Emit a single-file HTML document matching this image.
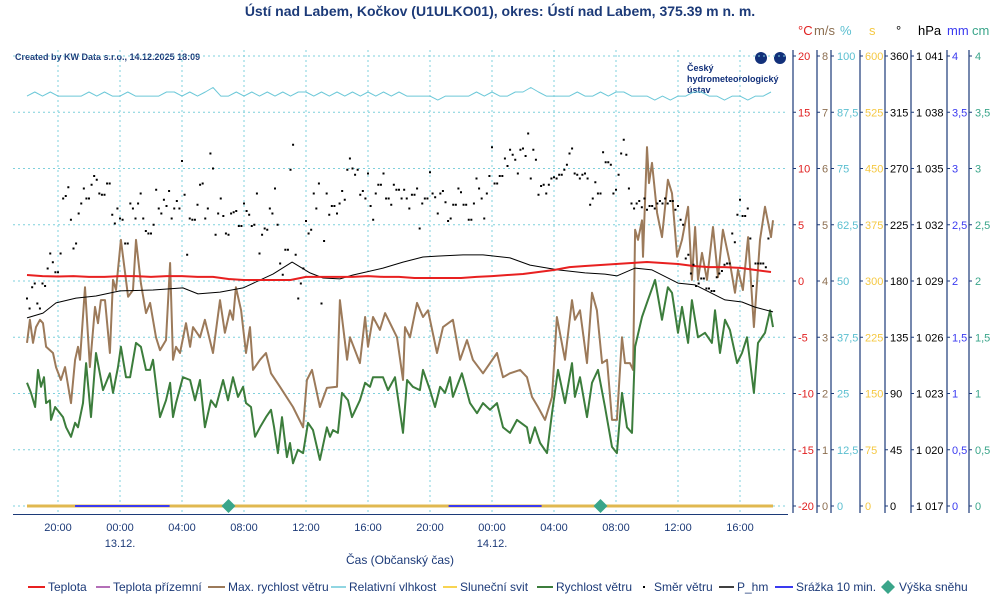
<!DOCTYPE html>
<html><head><meta charset="utf-8">
<style>
body{margin:0;background:#fff;width:1000px;height:600px;overflow:hidden;font-family:"Liberation Sans",sans-serif;}
svg text{font-family:"Liberation Sans",sans-serif;}
</style></head>
<body>
<svg id="chart" width="1000" height="600" viewBox="0 0 1000 600" xmlns="http://www.w3.org/2000/svg">
<text x="500" y="16" text-anchor="middle" font-size="14" font-weight="bold" fill="#1c3a78">Ústí nad Labem, Kočkov (U1ULKO01), okres: Ústí nad Labem, 375.39 m n. m.</text>
<text x="15" y="60" font-size="9" font-weight="bold" fill="#1c3a78">Created by KW Data s.r.o., 14.12.2025 18:09</text>
<g>
<circle cx="761" cy="58" r="6" fill="#12307a"/><circle cx="780" cy="58" r="6" fill="#12307a"/>
<text x="687" y="71" font-size="9" font-weight="bold" fill="#12307a">Český</text>
<text x="687" y="82" font-size="9" font-weight="bold" fill="#12307a">hydrometeorologický</text>
<text x="687" y="93" font-size="9" font-weight="bold" fill="#12307a">ústav</text>
</g>
<g id="grid"></g>
<g id="axes"></g>
<g id="series"></g>
<g id="xaxis"></g>
<text x="400" y="564" text-anchor="middle" font-size="12" fill="#1c3a78">Čas (Občanský čas)</text>
<g id="legend"></g>
</svg>
<script>
// ---- data (hours since 12.12. 18:00) ----
const tempHours = [0,1,2,3,4,5,6,7,8,9,10,11,12,13,14,15,16,17,18,19,20,21,22,23,24,25,26,27,28,29,30,31,32,33,34,35,36,37,38,39,40,41,42,43,44,45,46,47,48];
const tempValues = [0.53,0.44,0.4,0.44,0.36,0.36,0.44,0.44,0.36,0.44,0.44,0.36,0.36,0.18,0.09,0.09,0.09,0.09,0.36,0.36,0.36,0.36,0.44,0.36,0.36,0.27,0.27,0.27,0.27,0.36,0.44,0.53,0.62,0.8,0.98,1.24,1.33,1.42,1.51,1.6,1.69,1.6,1.51,1.33,1.24,1.24,1.16,0.98,0.8];
const gustHours = [0,0.19,0.39,0.58,0.84,1.03,1.23,1.68,1.87,2.19,2.45,2.84,3.1,3.29,3.42,3.74,4.06,4.39,4.58,4.77,5.03,5.35,5.55,5.74,6.06,6.52,6.84,7.03,7.35,7.68,7.94,8.32,8.58,8.97,9.23,9.42,9.61,9.87,10.26,10.52,10.71,11.16,11.48,12,12.45,12.77,13.1,13.29,13.48,13.81,14.13,14.39,14.58,15.03,15.42,15.74,16.32,17.16,17.81,18.06,18.39,18.9,19.35,20,20.19,20.65,20.84,21.48,21.81,22,22.32,22.77,23.1,23.87,24.26,24.39,24.71,25.16,25.55,25.87,26.45,26.84,27.48,27.94,28.39,28.77,29.42,30.32,30.71,31.16,31.81,32.26,32.58,32.97,33.42,33.87,34.19,34.71,35.16,35.35,35.68,36.13,36.45,36.77,37.1,37.42,37.74,38.06,38.39,38.58,38.9,39.1,39.23,39.42,39.68,39.74,40,40.13,40.32,40.65,40.97,41.35,41.61,41.94,42.26,42.65,42.9,43.1,43.29,43.55,43.87,44.26,44.58,44.9,45.35,45.68,45.87,46.19,46.52,46.9,47.29,47.61,48,48.13];
const gustValues = [2.9,3.31,2.9,3.18,3.31,3.25,2.83,2.72,2.47,2.24,2.47,1.83,2.6,2.83,2.6,3.89,2.47,3.54,3.25,3.66,3.66,2.72,4.02,3.84,4.73,3.72,3.84,4.73,3.96,3.43,3.61,3,2.77,2.95,4.32,2.6,2.83,2.72,3.25,2.83,3.18,3,3.31,2.72,3.66,3.08,3.48,3.31,3.89,3.48,2.72,3.18,2.42,2.6,2.72,2.36,2.12,1.76,1.4,2.24,2.42,1.76,2.1,2.12,3.66,2.6,3,2.54,3.36,2.83,3.36,3.13,3.43,3,2.24,3.18,3,3.61,3.36,3.48,2.72,3.18,3.31,2.6,2.95,2.6,2.36,2.72,2.29,2.36,2.42,2.29,1.94,1.76,1.53,1.94,3.36,2.6,3.66,3.31,3.48,2.54,3.79,3.48,2.54,2.6,1.53,1.53,3,2.54,2.54,2.42,4.91,4.73,5.08,4.43,6.38,5.74,6.1,5.21,4.78,5.8,5.56,4.43,4.73,5.32,4.02,4.96,4.02,4.5,4.02,4.96,4.07,4.91,4.32,3.79,4.2,3.84,4.78,3.18,4.73,5.32,4.78,5.08];
const speedHours = [0,0.26,0.52,0.71,0.9,1.1,1.23,1.48,1.55,1.81,2.32,2.52,2.84,3.1,3.29,3.61,3.81,4.13,4.45,4.9,5.35,5.55,5.87,6.06,6.39,6.65,7.03,7.35,7.68,7.94,8.13,8.58,8.97,9.23,9.42,9.61,10.06,10.52,10.84,11.16,11.48,11.87,12.19,12.65,12.97,13.29,13.61,13.94,14.13,14.45,14.71,15.03,15.42,15.74,15.94,16.19,16.45,16.77,16.97,17.16,17.48,17.81,18.13,18.45,18.9,19.35,19.55,19.74,20.06,20.32,20.71,20.97,21.48,21.81,22.13,22.32,22.97,23.29,23.74,24.26,24.52,24.9,25.35,25.55,26,26.32,26.65,26.97,27.29,27.48,28.06,28.58,29.03,29.42,29.87,30.32,30.71,31.16,31.61,32.26,32.45,32.77,33.1,33.55,33.87,34.26,34.71,35.16,35.35,35.68,36.13,36.45,36.84,37.29,37.74,38.06,38.39,38.71,39.03,39.23,39.68,40.06,40.52,40.97,41.35,41.61,42,42.26,42.65,42.9,43.29,43.74,44.19,44.39,44.71,45.03,45.35,45.81,46.13,46.45,46.9,47.16,47.61,47.94,48.13];
const speedValues = [2.19,2.01,1.76,2.42,2.12,2.29,1.83,1.88,1.53,1.76,1.58,1.4,1.23,1.48,1.4,1.83,2.54,1.58,2.72,2.06,2.36,2.01,2.47,2.83,2.29,2.29,2.9,2.83,2.42,2.42,2.6,1.58,1.88,2.19,1.58,1.83,2.29,2.24,1.88,2.24,1.4,1.88,1.76,2.24,1.88,2.29,1.94,2.12,1.83,1.76,1.23,1.4,1.58,1.71,1.4,0.94,1.58,0.87,1.12,0.76,1,0.94,1.48,1.35,0.82,1.4,1.23,1.35,1.3,2.01,1.88,1.58,1.88,2.19,2.12,2.29,2.29,2.06,2.29,1.3,2.24,2.12,2.06,2.42,2.06,1.76,2.12,2.01,2.29,1.94,2.36,1.83,1.65,1.83,1.71,1.83,1.4,1.3,1.53,1.4,1.12,1.4,1.12,0.94,1.65,2.42,1.83,2.54,1.94,2.29,1.58,2.19,2.42,1.76,1.05,0.94,2.01,1.4,1.3,2.83,3.36,3.66,4.02,3.31,3.89,3.79,3.08,3.54,2.9,3.66,3,3.08,2.9,3.48,2.72,3.31,3.13,2.54,2.72,3,2.01,2.9,3.08,3.48,3.18];
const pressHours = [0,1.03,1.87,3.16,4.45,6,8.13,10.06,11.03,12.45,13.94,15.03,15.87,17.1,18.26,19.1,20.19,21.03,22.97,24.26,25.55,26.45,28.13,29.42,31.16,32.45,34.26,36,37.29,38.06,39.23,40.32,42,43.1,45.03,46.13,46.97,48.13];
const pressValues = [1027.03,1027.29,1027.83,1028.09,1028.2,1028.47,1028.52,1028.63,1028.31,1028.41,1028.63,1029.05,1029.37,1030.01,1029.43,1029.16,1029.11,1029.32,1029.69,1030.01,1030.28,1030.33,1030.39,1030.39,1030.23,1029.85,1029.59,1029.43,1029.37,1029.27,1029.69,1029.59,1028.89,1028.79,1027.99,1027.88,1027.61,1027.35];
// humidity every 30 min
const humidValues = [91.1,92,91.1,92,91.1,91.1,91.1,91.1,92,91.1,92,91.1,91.1,92,91.1,91.1,91.1,91.1,92,92,91.1,92,91.1,92,93,91.1,91.1,92,91.1,92,91.1,92,91.1,92,91.1,92,92,91.1,92,91.1,92,91.1,92,91.1,92,91.1,92,91.1,92,91.1,91.1,91.1,91.1,90.2,91.1,91.1,91.1,91.1,92,91.1,92,91.1,91.1,92,92,93,92,91.1,91.1,91.1,91.1,92,91.1,91.1,92,91.1,92,92,91.1,91.1,91.1,90.2,91.1,90.2,91.1,91.1,92,92,91.1,91.1,90.2,91.1,91.1,90.2,91.1,91.1,92];
// wind direction every 10 min
const dirValues = [166,158,175,178,162,158,178,176,190,202,195,187,187,202,246,248,255,229,206,210,234,242,254,246,246,257,264,261,250,249,249,258,258,233,226,238,230,229,210,210,242,238,230,242,250,230,220,218,218,225,253,238,234,245,240,252,230,238,244,238,276,249,201,230,229,229,241,257,258,230,238,282,270,217,234,246,232,218,217,234,235,236,224,224,242,236,233,224,225,250,202,217,222,221,238,234,
254,225,194,185,205,205,269,289,201,166,178,190,228,218,221,250,238,258,162,212,250,233,240,240,234,242,252,245,269,278,270,265,269,249,252,246,266,240,229,250,257,257,266,246,246,241,257,253,253,246,253,246,238,249,249,254,222,242,246,246,267,250,247,234,250,252,243,228,230,241,241,254,251,241,241,229,229,242,262,254,246,230,250,264,287,258,258,264,264,278,272,285,281,277,266,285,286,280,
298,262,285,277,249,256,257,250,257,262,263,262,265,265,269,273,282,286,266,265,262,265,266,262,241,246,259,250,250,283,275,275,273,250,253,265,282,293,281,254,242,238,242,244,239,246,237,240,240,238,242,244,242,246,242,244,244,237,240,229,225,198,201,186,193,176,178,182,182,174,174,172,172,183,186,188,193,194,194,218,211,233,245,232,232,238,214,176,194,194,194,194,191,214];
const snowHours = [13.0, 37.0];
const snowValues = [0, 0];
const precipHours = [[3.1,9.2],[27.2,33.2]];
const xTickLabels = ["20:00","00:00","04:00","08:00","12:00","16:00","20:00","00:00","04:00","08:00","12:00","16:00"];
const xTickHours = [2,6,10,14,18,22,26,30,34,38,42,46];
const dateLabels = ["13.12.","14.12."];
const dateHours = [6,30];

// ---- scales ----
const X = h => 27 + h*15.5;
const yT = v => 281 - v*11.25;
const yW = v => 506 - v*56.25;
const yH = v => 506 - v*4.5;
const yD = v => 506 - v*1.25;
const yP = v => 506 - (v-1017)*18.75;
const NS = "http://www.w3.org/2000/svg";
function mk(tag, attrs, parent){const e=document.createElementNS(NS,tag);for(const k in attrs)e.setAttribute(k,attrs[k]);parent.appendChild(e);return e;}
const grid=document.getElementById('grid'), axes=document.getElementById('axes'), ser=document.getElementById('series'), xa=document.getElementById('xaxis'), leg=document.getElementById('legend');
const navy="#1c3a78", gcol="#7fd0dc";
// horizontal grid
for(let i=0;i<=8;i++){const y=56+i*56.25;
 const l=mk('line',{x1:13,x2:788,y1:y,y2:y,stroke:gcol,'stroke-dasharray':'2,3','stroke-width':1},grid);
 
 }
// vertical grid
xTickHours.forEach(h=>{const l=mk('line',{x1:X(h),x2:X(h),y1:50,y2:514,stroke:gcol,'stroke-dasharray':'2,3','stroke-width':1},grid);
 
 });
// bottom axis
const ba=mk('line',{x1:13,x2:788,y1:514.5,y2:514.5,stroke:navy,'stroke-width':1},xa);


xTickHours.forEach((h,i)=>{const t=mk('text',{x:X(h),y:531,'text-anchor':'middle','font-size':11,fill:navy},xa);t.textContent=xTickLabels[i];
 
 });
dateHours.forEach((h,i)=>{const t=mk('text',{x:X(h),y:547,'text-anchor':'middle','font-size':11,fill:navy},xa);t.textContent=dateLabels[i];
 
 });
// right axes
const axDefs=[
 {x:793,lx:798,col:"#e02020",unit:"°C",ux:798,labels:["20","15","10","5","0","-5","-10","-15","-20"]},
 {x:817,lx:822,col:"#8c6e50",unit:"m/s",ux:814,labels:["8","7","6","5","4","3","2","1","0"]},
 {x:831,lx:837,col:"#5bbfd0",unit:"%",ux:840,labels:["100","87,5","75","62,5","50","37,5","25","12,5","0"]},
 {x:860,lx:865,col:"#f5c842",unit:"s",ux:869,labels:["600","525","450","375","300","225","150","75","0"]},
 {x:885,lx:890,col:"#000",unit:"°",ux:896,labels:["360","315","270","225","180","135","90","45","0"]},
 {x:911,lx:916,col:"#000",unit:"hPa",ux:918,labels:["1 041","1 038","1 035","1 032","1 029","1 026","1 023","1 020","1 017"]},
 {x:947,lx:952,col:"#3a3af0",unit:"mm",ux:947,labels:["4","3,5","3","2,5","2","1,5","1","0,5","0"]},
 {x:969,lx:975,col:"#3aa58a",unit:"cm",ux:972,labels:["4","3,5","3","2,5","2","1,5","1","0,5","0"]}];
axDefs.forEach(a=>{
 const l=mk('line',{x1:a.x,x2:a.x,y1:50,y2:513,stroke:"#1c3a78",'stroke-width':1.2},axes);
 
 
 const u=mk('text',{x:a.ux,y:35,'font-size':13,fill:a.col},axes);u.textContent=a.unit;
 
 
 a.labels.forEach((s,i)=>{const y=56+i*56.25;
  mk('line',{x1:a.x,x2:a.x+3,y1:y,y2:y,stroke:"#1c3a78"},axes);
  const t=mk('text',{x:a.lx,y:y+4,'font-size':11,fill:a.col},axes);t.textContent=s;
  
  });
});
function path(hs,vs,ys,col,w,name){let d='';hs.forEach((h,i)=>{d+=(i?'L':'M')+X(h).toFixed(1)+' '+ys(vs[i]).toFixed(1);});
 const p=mk('path',{d:d,fill:'none',stroke:col,'stroke-width':w,'stroke-linejoin':'round'},ser);
 
 return p;}
// sunshine + precipitation baseline
const sun=mk('line',{x1:X(0),x2:X(48.13),y1:506,y2:506,stroke:'#e0b850','stroke-width':3},ser);


precipHours.forEach(r=>{const p=mk('line',{x1:X(r[0]),x2:X(r[1]),y1:506,y2:506,stroke:'#3a3af0','stroke-width':2},ser);
 
 });
const humidHours=humidValues.map((v,i)=>i*0.5);
path(humidHours,humidValues,yH,'#6cc8d8',1,'humidity-line');
path(gustHours,gustValues,yW,'#9c7a5a',2,'max-wind-line');
path(speedHours,speedValues,yW,'#3c7d3c',2,'wind-speed-line');
path(pressHours,pressValues,yP,'#000',1,'pressure-line');
path(tempHours,tempValues,yT,'#e82020',2,'temperature-line');
dirValues.forEach((v,i)=>{const r=mk('rect',{x:X(i/6)-1,y:yD(v)-1,width:2,height:2,fill:'#000'},ser);
 
 });
snowHours.forEach((h,i)=>{const cx=X(h),cy=yW(snowValues[i]);
 const p=mk('polygon',{points:`${cx},${cy-7} ${cx+7},${cy} ${cx},${cy+7} ${cx-7},${cy}`,fill:'#3aa58a'},ser);
 
 });
// legend
const legItems=[
 {x:28,w:17,col:'#e82020',t:'Teplota',tw:2},
 {x:96,w:14,col:'#9b3fa0',t:'Teplota přízemní',tw:1.5},
 {x:208,w:17,col:'#9c7a5a',t:'Max. rychlost větru',tw:2},
 {x:331,w:15,col:'#6cc8d8',t:'Relativní vlhkost',tw:1.5},
 {x:443,w:14,col:'#f5c518',t:'Sluneční svit',tw:1.5},
 {x:537,w:16,col:'#3c7d3c',t:'Rychlost větru',tw:2},
 {x:643,w:0,col:'#000',t:'Směr větru',dot:1},
 {x:719,w:15,col:'#000',t:'P_hm',tw:1.5},
 {x:775,w:18,col:'#3a3af0',t:'Srážka 10 min.',tw:2},
 {x:881,w:0,col:'#3aa58a',t:'Výška sněhu',dia:1}];
legItems.forEach(it=>{const g=mk('g',{},leg);
 
 
 let tx=it.x+it.w+3;
 if(it.dot){mk('rect',{x:it.x,y:586,width:2,height:2,fill:'#000'},g);tx=it.x+11;}
 else if(it.dia){mk('polygon',{points:`${it.x+7},580 ${it.x+14},587 ${it.x+7},594 ${it.x},587`,fill:it.col},g);tx=it.x+18;}
 else mk('line',{x1:it.x,x2:it.x+it.w,y1:587,y2:587,stroke:it.col,'stroke-width':it.tw},g);
 const t=mk('text',{x:tx,y:591,'font-size':12,fill:navy},g);t.textContent=it.t;});
</script>
</body></html>
